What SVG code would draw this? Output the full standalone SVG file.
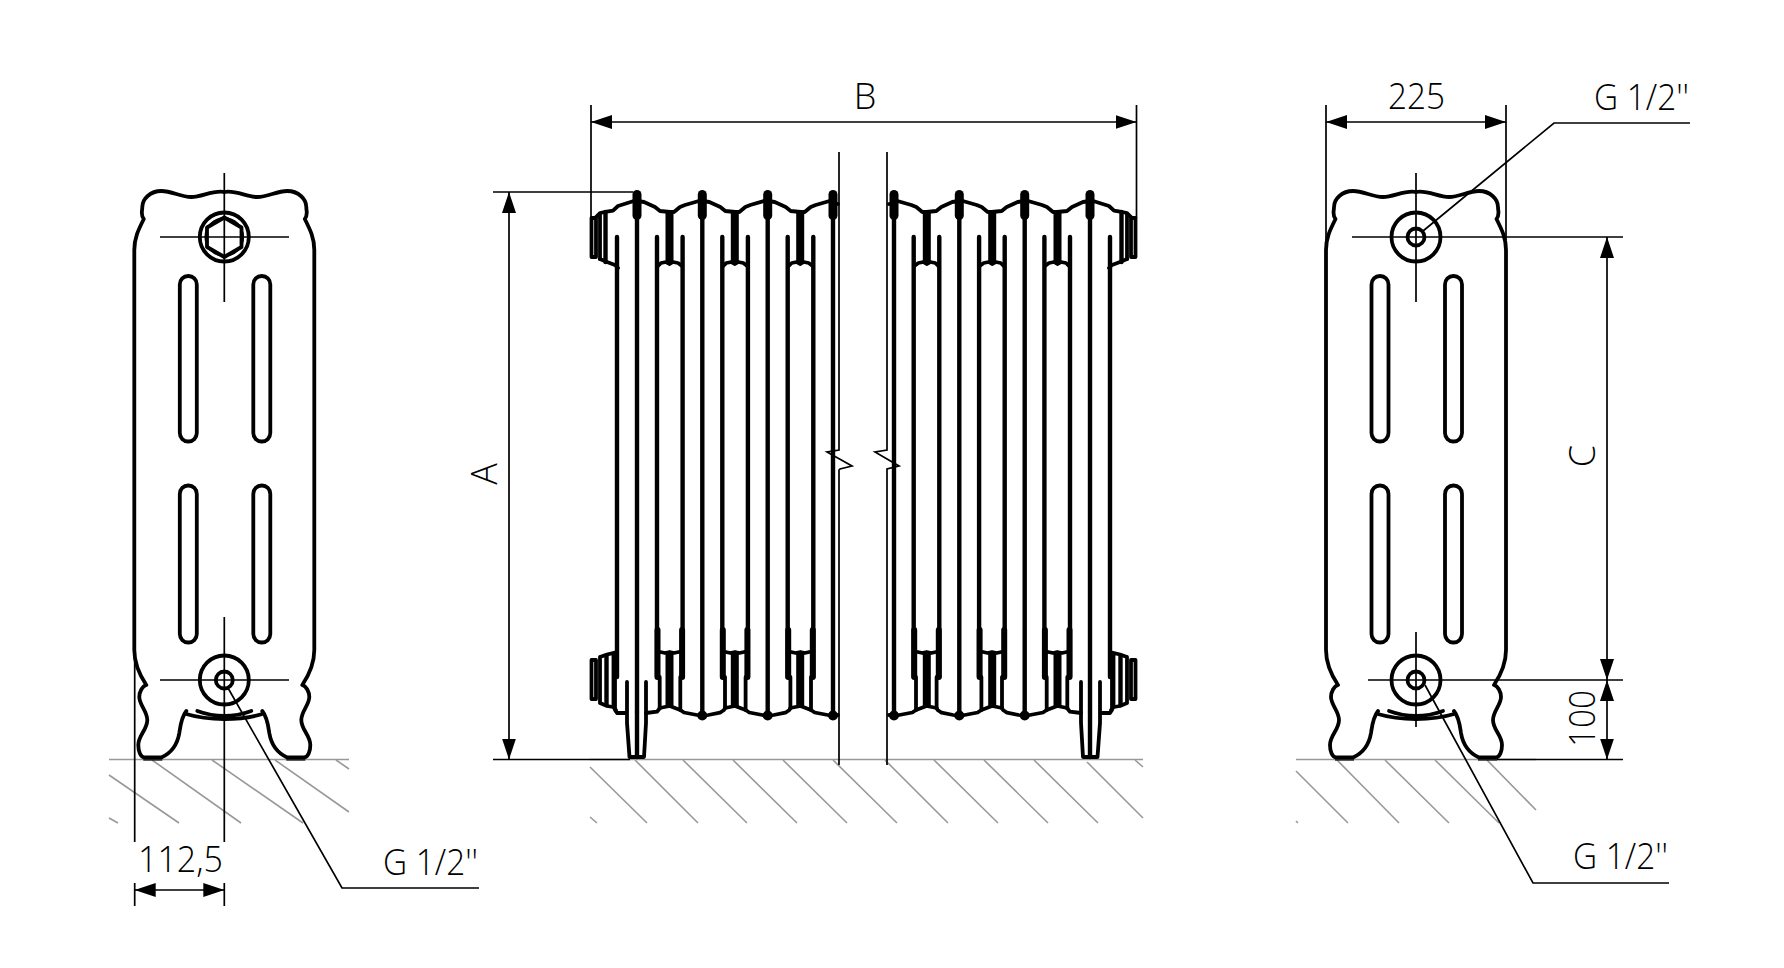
<svg xmlns="http://www.w3.org/2000/svg" xmlns:xlink="http://www.w3.org/1999/xlink" width="1784" height="968" viewBox="0 0 1784 968">
<style>
.bg{fill:#fff}
.o{fill:none;stroke:#000;stroke-width:3.8;stroke-linecap:round;stroke-linejoin:round}
.r{fill:none;stroke:#000;stroke-width:4.4;stroke-linecap:round}
.w{fill:none;stroke:#000;stroke-width:6;stroke-linecap:round}
.f{fill:#000;stroke:none}
.t{fill:none;stroke:#000;stroke-width:1.7}
.g{fill:none;stroke:#999;stroke-width:1.6}
.d{fill:none;stroke:#000;stroke-width:1.7;marker-start:url(#arrow);marker-end:url(#arrow)}
text{font-family:"Open Sans","Noto Sans","Liberation Sans",sans-serif;font-weight:300;font-size:36px;fill:#000}
</style>
<defs>
<marker id="arrow" markerUnits="userSpaceOnUse" markerWidth="22" markerHeight="15" refX="21" refY="7" orient="auto-start-reverse"><path d="M0 0L21 7L0 14Z" fill="#000"/></marker>
<path id="endhalf" class="o" d="M0 192C-12 190-22 197-33 197C-44 197-52 191-63 191C-74 191-82 199-82 207C-82 212-84 214-80.5 219C-86 230-90 238-90 250L-90 650C-90 664-84 676-78 685C-82 686-85 692-85 697C-85 705-77 711-77 720C-77 730-86 735-86 745C-86 751-84 757-80 757.5L-63 757.5C-53 753-47 745-45 733C-44 726-43 717-38 711M-38 714C-25 718-12 719 0 719"/>
<g id="endbody">
<use href="#endhalf"/><use href="#endhalf" transform="scale(-1,1)"/>
<path class="o" d="M-27 711C-16 715-8 716 0 716C8 716 16 715 27 711"/>
<path class="f" d="M-81 758.500h19v2.500h-19zM62 758.500h19v2.500h-19z" opacity=".6"/>
<rect class="o" x="-44.500" y="276" width="17" height="165.500" rx="8.400"/>
<rect class="o" x="29" y="276" width="17" height="165.500" rx="8.400"/>
<rect class="o" x="-44.500" y="485.500" width="17" height="157" rx="8.400"/>
<rect class="o" x="29" y="485.500" width="17" height="157" rx="8.400"/>
<circle class="o" cy="680" r="24.500"/>
<circle class="o" cy="680" r="8.500"/>
</g>
<g id="capcol">
<rect class="f" x="-4.500" y="190" width="9" height="30" rx="4.500"/>
<path class="r" d="M0 218V712"/>
</g>
<circle id="dot" class="f" cy="715.500" r="5"/>
<g id="bay">
<path class="o" d="M0 201L7 202L18 207L23 211L33 212L37 212L43 207L48 205L65.300 200"/>
<rect class="f" x="28.500" y="212" width="8" height="50"/>
<path class="r" d="M20 237V677M45.600 237V677"/>
<path class="w" d="M20.500 630V677M45.100 630V677"/>
<path class="o" d="M21 266L24 263L29 262L32.700 264L36 262L41 263L45 266"/>
<path class="o" d="M21 651.500L28 653L32.700 652L37 653L44 651.500"/>
<rect class="f" x="28.500" y="652" width="8" height="54"/>
<path class="o" d="M22.700 677V708M43.300 677V710"/>
<path class="o" d="M22.700 708L32.700 706L43.300 710L47 712.500L60 715L65.300 716"/>
</g>
<path id="bayleft" class="o" d="M0 716L6 715L17.700 712.700L21.700 710L22.700 708"/>
<g id="half">
<use href="#capcol" x="637"/><use href="#capcol" x="702.300"/><use href="#capcol" x="767.700"/><use href="#capcol" x="833"/>
<use href="#dot" x="702.300"/><use href="#dot" x="767.700"/><use href="#dot" x="833"/>
<use href="#bay" x="637"/><use href="#bay" x="702.300"/><use href="#bay" x="767.700"/>
<use href="#bayleft" x="702.300"/><use href="#bayleft" x="767.700"/>
<path class="o" d="M833 203L838 204M833 715L838 715"/>
<path class="r" d="M637 712V757M617 237V677"/>
<path class="o" d="M615 677V710L617 713L625 713M646 713L657 711.700L660 708M637 200L618 206L613 210.700L607 211.700L600 213L596 217M618 268L615 265L607 262L600 259"/>
<rect class="o" x="591.500" y="218" width="4.500" height="39"/>
<path class="o" d="M600 214V259"/>
<path class="r" d="M605.500 212V262"/>
<path class="o" d="M627 682V723L629.500 757L644 757L646 723V682"/>
<rect class="o" x="591.500" y="660" width="4.500" height="39"/>
<path class="o" d="M600 657V703M613.500 654V707M600 657L607 654.500L615 652.700M600 703L607 706L613 707L616 710"/>
<path class="r" d="M606.500 656V705"/>
</g>
</defs>
<rect class="bg" width="1784" height="968"/>

<g id="ground">
<path class="g" d="M109 759.500H349M590 759.500H1143M1296 759.500H1536"/>
<path class="g" d="M152 760L241 823M212 760L303 823M275 760L349 812M336 760L349 769M109 775L179 823M109 818L118 823"/>
<path class="g" d="M590 767L647 823M590 817L597 823M635 760L698 823M683 760L747 823M733 760L797 823M783 760L847 823M833 760L897 823M885 760L948 823M934 760L998 823M984 760L1048 823M1034 760L1098 823M1087 762L1143 818M1135 760L1143 767"/>
<path class="g" d="M1337 760L1399 823M1385 760L1449 823M1435 760L1499 823M1487 760L1536 810M1296 771L1348 823M1296 821L1298 823"/>
</g>

<g id="view-left">
<use href="#endbody" x="224.300"/>
<circle class="o" cx="224.300" cy="237" r="24.500"/>
<circle class="t" cx="224.300" cy="237" r="19"/>
<path class="o" d="M224.300 217.500L241.500 227.500V247L224.300 257L207 247V227.500Z"/>
<path class="t" d="M224.300 173V302M160 237H289M160 680H289"/>
</g>

<g id="view-middle">
<use href="#half"/>
<use href="#half" transform="translate(1727,0) scale(-1,1)"/>
<path class="t" d="M839 152V450L827 452L852 466L840 469L839 470V765M887 152V450L875 452L899 466L887 469V765"/>
</g>

<g id="view-right">
<use href="#endbody" x="1416"/>
<circle class="o" cx="1416" cy="237" r="24.500"/>
<circle class="o" cx="1416" cy="237" r="8.500"/>
<path class="t" d="M1416 173V302M1416 632V727"/>
</g>

<g id="connectors">
<path class="t" d="M134.700 650V842M224.300 617V842M134.700 883V906M224.300 883V906"/>
<path class="d" d="M134.700 890H224.300"/>
<path class="t" d="M228 688L342 888H479"/>
<path class="t" d="M591 105V218M1136.500 105V218M493 192H633M493 759.500H630"/>
<path class="d" d="M591 122H1136.500"/>
<path class="d" d="M509 192V759.500"/>
<path class="t" d="M1326 105V240M1506 105V240M1352 237H1623M1368 680H1623M1497 759.500H1623"/>
<path class="d" d="M1326 122H1506"/>
<path class="d" d="M1607 237V680"/>
<path class="d" d="M1607 680V759.500"/>
<path class="t" d="M1423 231L1554 123H1690M1425 685L1533 883H1669"/>
</g>

<g id="labels">
<text x="138" y="872" textLength="85" lengthAdjust="spacingAndGlyphs">112,5</text>
<text x="383" y="875" textLength="95" lengthAdjust="spacingAndGlyphs">G 1/2''</text>
<text x="865" y="109" text-anchor="middle">B</text>
<text transform="translate(497,474) rotate(-90)" text-anchor="middle">A</text>
<text x="1388" y="109" textLength="57" lengthAdjust="spacingAndGlyphs">225</text>
<text x="1594" y="110" textLength="95" lengthAdjust="spacingAndGlyphs">G 1/2''</text>
<text x="1573" y="869" textLength="95" lengthAdjust="spacingAndGlyphs">G 1/2''</text>
<text transform="translate(1595,456) rotate(-90)" text-anchor="middle">C</text>
<text transform="translate(1595,747) rotate(-90)" textLength="57" lengthAdjust="spacingAndGlyphs">100</text>
</g>
</svg>
